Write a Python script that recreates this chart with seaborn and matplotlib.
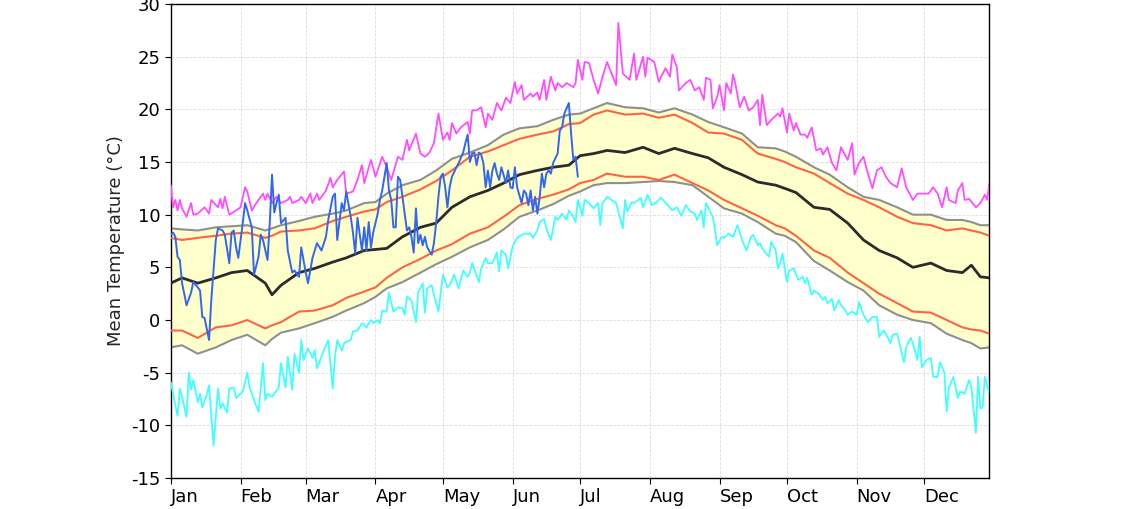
import numpy as np
import pandas as pd
import matplotlib
matplotlib.use("Agg")
import matplotlib.pyplot as plt
import seaborn as sns

# day of year (0 = 1 Jan, leap year) for the smooth climatology curves
band_days = [0, 5, 12, 20, 27, 34, 42, 45, 49, 57, 64, 72, 78, 86, 91, 96, 103, 111, 118,
             125, 133, 141, 148, 155, 163, 170, 177, 182, 188, 194, 202, 210, 217, 224, 232,
             239, 246, 254, 261, 269, 273, 278, 286, 293, 301, 308, 315, 323, 330, 338, 345,
             352, 356, 360, 364]

mean_t = [3.5, 4.0, 3.5, 4.0, 4.5, 4.7, 3.5, 2.4, 3.3, 4.5, 4.9, 5.5, 5.9, 6.6, 6.7, 6.8, 7.9,
          8.8, 9.2, 10.7, 11.7, 12.3, 13.0, 13.8, 14.2, 14.5, 14.7, 15.6, 15.8, 16.1, 15.9, 16.4,
          15.8, 16.3, 15.8, 15.4, 14.5, 13.8, 13.1, 12.8, 12.5, 12.1, 10.7, 10.5, 9.2, 7.6, 6.6,
          5.9, 5.0, 5.4, 4.7, 4.5, 5.2, 4.1, 4.0]

red_hi = [7.8, 7.6, 7.8, 8.0, 8.2, 8.3, 7.8, 8.0, 8.4, 8.5, 8.7, 9.4, 9.8, 10.3, 10.5, 11.2,
          11.7, 12.4, 13.2, 14.2, 15.5, 16.0, 16.6, 17.2, 17.6, 17.9, 18.6, 18.7, 19.5, 19.9,
          19.5, 19.6, 19.2, 19.5, 18.7, 17.8, 17.7, 17.1, 15.8, 15.3, 15.0, 14.5, 13.9, 13.0,
          12.0, 11.4, 10.7, 9.8, 9.2, 9.0, 8.5, 8.7, 8.5, 8.3, 8.0]

grey_hi = [8.7, 8.6, 8.5, 8.8, 8.9, 9.0, 8.5, 8.7, 9.0, 9.4, 9.8, 10.1, 10.4, 11.1, 11.2, 12.0,
           12.8, 13.3, 14.2, 15.3, 15.9, 16.6, 17.6, 18.2, 18.4, 19.0, 19.5, 19.6, 20.1, 20.6,
           20.2, 20.1, 19.7, 20.1, 19.5, 18.8, 18.3, 17.7, 16.4, 16.3, 16.0, 15.5, 14.5, 13.8,
           12.6, 11.7, 11.4, 10.7, 10.0, 10.0, 9.5, 9.5, 9.3, 9.0, 9.0]

red_lo = [-1.0, -1.0, -1.7, -0.7, -0.5, 0.0, -0.8, -0.5, -0.2, 0.8, 0.9, 1.4, 2.1, 2.7, 3.1,
          4.0, 5.0, 5.8, 6.6, 7.2, 8.2, 8.8, 9.8, 10.9, 11.5, 11.9, 12.4, 13.0, 13.3, 13.9, 13.6,
          13.6, 13.3, 13.8, 13.0, 12.3, 11.4, 10.6, 9.9, 9.0, 8.7, 8.0, 6.6, 5.9, 4.5, 3.5, 2.5,
          1.6, 0.8, 0.7, 0.0, -0.7, -0.9, -1.0, -1.3]

grey_lo = [-2.6, -2.4, -3.2, -2.6, -1.9, -1.4, -2.4, -1.8, -1.2, -0.8, -0.3, 0.3, 0.9, 1.6, 2.2,
           3.0, 3.6, 4.5, 5.3, 6.0, 6.9, 7.6, 8.6, 9.8, 10.4, 11.0, 11.8, 12.2, 12.8, 13.0, 13.0,
           13.1, 13.2, 13.1, 12.8, 11.7, 10.6, 10.1, 9.3, 8.2, 8.0, 7.4, 5.6, 4.7, 3.6, 2.8, 1.4,
           0.5, 0.0, -0.3, -1.3, -1.9, -2.2, -2.7, -2.6]

# record highs
max_days = [0, 1, 2, 3, 4, 5, 7, 9, 10, 12, 15, 17, 18, 21, 22, 23, 24, 26, 29, 31, 33, 34, 36,
            38, 41, 42, 43, 45, 47, 49, 52, 53, 54, 57, 58, 60, 62, 63, 65, 66, 69, 71, 72, 74,
            77, 78, 81, 83, 85, 86, 89, 91, 94, 96, 98, 101, 103, 105, 106, 109, 111, 113, 115,
            117, 119, 121, 123, 124, 125, 127, 129, 132, 133, 134, 136, 138, 140, 141, 143, 145,
            147, 149, 151, 153, 154, 156, 157, 160, 161, 163, 164, 166, 167, 169, 171, 172, 174,
            176, 179, 180, 181, 183, 184, 186, 188, 190, 192, 194, 196, 198, 199, 201, 203, 204,
            206, 207, 210, 211, 212, 215, 217, 218, 220, 222, 223, 225, 226, 229, 231, 233, 235,
            237, 238, 240, 241, 243, 244, 246, 247, 249, 250, 251, 253, 255, 257, 259, 261, 262,
            263, 265, 267, 270, 271, 272, 274, 275, 277, 278, 280, 282, 283, 285, 287, 289, 290,
            292, 294, 296, 298, 301, 303, 304, 306, 308, 310, 312, 314, 316, 318, 320, 323, 325,
            327, 330, 332, 334, 337, 339, 341, 343, 345, 346, 349, 350, 352, 353, 355, 358, 360,
            362, 363, 364]
max_t = [12.8, 10.7, 11.4, 10.4, 11.4, 10.6, 9.8, 11.1, 10.0, 10.1, 10.7, 10.1, 11.4, 10.7,
         11.5, 10.6, 11.7, 10.0, 10.4, 10.7, 12.6, 12.2, 10.4, 11.1, 12.0, 11.4, 12.0, 11.1, 11.7,
         11.1, 11.4, 11.7, 11.1, 11.4, 11.7, 11.1, 12.0, 11.1, 12.0, 11.4, 12.3, 13.5, 12.6, 13.3,
         14.1, 12.0, 12.2, 13.3, 14.7, 13.0, 15.2, 13.6, 15.5, 14.5, 13.3, 15.5, 15.2, 17.1, 16.1,
         17.7, 15.8, 15.5, 15.9, 16.8, 19.6, 17.1, 17.8, 17.1, 18.7, 17.7, 18.3, 18.8, 17.7, 19.9,
         19.9, 20.2, 18.3, 19.6, 19.0, 20.6, 19.9, 21.1, 20.6, 22.6, 21.5, 22.3, 20.9, 21.5, 21.2,
         21.6, 20.9, 22.8, 20.9, 23.1, 21.8, 22.5, 22.1, 22.5, 22.1, 22.5, 24.7, 22.8, 24.5, 24.4,
         22.8, 21.5, 23.1, 24.5, 23.4, 22.3, 28.2, 23.4, 23.0, 22.8, 25.3, 22.8, 25.0, 23.1, 24.9,
         24.5, 22.6, 23.1, 23.9, 23.1, 25.2, 24.0, 21.8, 22.5, 22.8, 21.8, 22.1, 20.9, 23.0, 22.8,
         20.1, 21.2, 22.3, 19.9, 22.5, 21.5, 23.3, 22.5, 20.2, 21.2, 19.9, 20.2, 20.9, 18.5, 21.4,
         18.5, 19.0, 19.6, 19.3, 20.1, 17.8, 19.6, 18.0, 18.7, 17.6, 17.6, 17.3, 18.3, 16.1, 16.3,
         15.7, 16.4, 14.9, 14.2, 16.4, 15.2, 16.8, 13.8, 14.9, 15.5, 13.9, 12.5, 14.2, 14.5, 13.6,
         13.0, 12.6, 14.4, 12.6, 11.4, 12.0, 12.0, 12.0, 12.6, 12.0, 10.7, 12.6, 11.4, 11.1, 12.3,
         13.0, 11.4, 11.5, 10.7, 11.1, 11.9, 11.4, 13.0]

# record lows
min_days = [0, 1, 3, 4, 5, 7, 8, 9, 10, 12, 13, 14, 16, 17, 19, 21, 22, 23, 25, 26, 28, 29, 32,
            34, 35, 37, 39, 41, 42, 43, 45, 48, 49, 51, 52, 54, 55, 57, 58, 59, 61, 63, 64, 65,
            68, 70, 72, 73, 74, 76, 77, 80, 81, 83, 85, 87, 89, 90, 92, 93, 94, 96, 97, 99, 101,
            103, 104, 105, 107, 109, 110, 112, 113, 114, 116, 117, 119, 121, 123, 124, 126, 128,
            130, 132, 133, 134, 137, 138, 140, 141, 143, 145, 146, 147, 149, 150, 152, 154, 157,
            160, 161, 163, 164, 166, 167, 169, 171, 172, 174, 176, 177, 179, 180, 181, 183, 184,
            186, 188, 190, 191, 192, 194, 196, 198, 199, 201, 202, 203, 205, 206, 209, 210, 212,
            214, 216, 218, 221, 223, 225, 227, 229, 231, 233, 234, 236, 237, 238, 241, 242, 243,
            245, 246, 248, 250, 252, 253, 254, 256, 258, 259, 261, 262, 263, 266, 267, 269, 270,
            271, 272, 274, 275, 277, 279, 281, 282, 283, 285, 286, 288, 290, 291, 292, 294, 295,
            297, 298, 300, 301, 303, 305, 306, 308, 310, 312, 314, 315, 317, 318, 320, 321, 323,
            324, 326, 327, 329, 330, 332, 333, 334, 336, 338, 339, 341, 342, 344, 345, 346, 348,
            350, 351, 353, 355, 356, 358, 359, 360, 361, 362, 364]
min_t = [-5.9, -7.0, -9.1, -6.5, -7.3, -9.2, -5.0, -6.6, -5.7, -7.8, -7.0, -8.3, -7.1, -6.2,
         -11.9, -6.5, -8.4, -7.9, -8.8, -6.5, -6.4, -7.4, -6.8, -5.0, -6.4, -7.6, -8.7, -4.1,
         -7.6, -7.0, -7.3, -6.4, -4.1, -6.4, -3.5, -6.6, -3.2, -5.0, -1.9, -3.8, -2.7, -3.6, -2.9,
         -4.6, -2.9, -1.9, -6.5, -3.5, -1.9, -2.9, -2.2, -1.9, -1.1, -1.0, -0.3, -0.7, 0.0, -0.3,
         0.0, -0.3, 0.9, 0.8, 2.6, 0.8, 1.2, 1.1, 0.5, 2.2, 1.9, -0.2, 2.6, 3.5, 0.7, 3.0, 3.3,
         2.4, 0.8, 4.3, 3.1, 3.3, 4.3, 3.0, 4.7, 4.1, 4.5, 5.4, 3.6, 4.9, 5.9, 5.4, 5.4, 6.4, 4.6,
         6.6, 6.2, 4.9, 7.0, 7.8, 8.2, 8.2, 7.8, 8.5, 9.3, 9.6, 8.7, 7.6, 9.8, 9.5, 10.1, 9.5,
         10.4, 9.8, 9.3, 11.4, 9.9, 11.4, 11.1, 10.6, 11.1, 9.0, 11.1, 11.7, 11.4, 11.1, 10.3,
         8.7, 11.4, 10.3, 11.2, 11.1, 11.6, 10.7, 11.9, 10.9, 11.2, 11.6, 10.9, 10.4, 10.7, 9.9,
         10.9, 10.3, 10.1, 9.5, 10.4, 8.8, 11.1, 9.8, 8.5, 7.1, 7.9, 7.8, 8.2, 7.9, 9.0, 8.3, 7.6,
         6.6, 7.9, 8.1, 7.1, 7.3, 6.8, 6.0, 7.4, 6.6, 4.9, 5.4, 6.3, 3.6, 4.7, 4.9, 3.8, 4.1, 3.5,
         4.0, 2.4, 2.8, 2.5, 1.9, 2.2, 1.6, 2.0, 0.9, 1.9, 1.4, 0.9, 0.5, 0.8, 0.5, 1.7, 0.5,
         -0.2, 0.3, 0.3, -1.6, -1.0, -1.3, -2.2, -1.4, -1.3, -2.2, -4.0, -2.6, -1.7, -2.2, -3.8,
         -1.6, -4.5, -3.8, -3.6, -5.4, -5.4, -4.0, -5.0, -8.7, -6.4, -5.4, -7.4, -6.8, -7.0, -5.7,
         -6.4, -10.7, -5.4, -8.4, -8.3, -5.4, -7.0]

# this year so far
cur_days = [0, 1, 2, 3, 4, 5, 7, 9, 10, 12, 13, 14, 15, 17, 18, 20, 21, 23, 24, 26, 27, 28, 29,
            30, 32, 33, 34, 36, 37, 39, 40, 41, 43, 44, 45, 46, 47, 48, 49, 51, 52, 54, 55, 57,
            58, 60, 61, 63, 64, 65, 67, 69, 70, 72, 73, 74, 76, 77, 78, 80, 81, 82, 83, 85, 86,
            87, 88, 89, 90, 92, 93, 94, 96, 97, 98, 99, 100, 101, 102, 103, 105, 106, 107, 108,
            109, 110, 111, 112, 113, 114, 116, 117, 118, 119, 120, 121, 122, 123, 124, 125, 127,
            128, 129, 130, 131, 132, 133, 134, 135, 136, 137, 138, 139, 140, 141, 142, 143, 144,
            145, 146, 147, 149, 150, 151, 152, 153, 154, 156, 157, 158, 159, 160, 161, 162, 163,
            164, 165, 166, 167, 168, 169, 170, 172, 173, 174, 175, 176, 177, 178, 179, 180, 181]
cur_t = [8.1, 8.3, 7.9, 6.0, 5.7, 3.5, 1.4, 2.6, 3.6, 3.1, 2.8, 0.3, 0.2, -1.9, 1.9, 7.6, 8.7,
         8.5, 8.1, 5.4, 8.3, 8.5, 6.9, 5.9, 9.2, 11.1, 10.4, 8.8, 4.3, 6.0, 8.1, 7.6, 5.7, 9.2,
         13.8, 10.2, 11.1, 11.9, 9.2, 9.7, 6.6, 4.5, 4.7, 4.1, 6.9, 4.5, 3.5, 5.9, 6.6, 7.3, 6.6,
         7.9, 9.5, 11.7, 12.0, 7.6, 11.1, 10.4, 12.2, 9.8, 8.3, 6.3, 9.7, 6.6, 8.8, 6.6, 9.3, 6.9,
         8.3, 10.1, 11.4, 12.3, 14.9, 12.3, 11.4, 8.8, 8.8, 13.6, 13.3, 11.7, 8.5, 8.8, 7.9, 6.4,
         10.6, 7.3, 8.1, 7.1, 7.9, 6.9, 6.2, 7.3, 9.2, 11.7, 13.6, 13.9, 12.6, 10.7, 12.6, 13.6,
         14.5, 14.9, 15.4, 15.9, 16.8, 17.6, 15.0, 15.8, 15.9, 14.7, 15.9, 15.7, 14.9, 12.6, 14.2,
         12.6, 14.2, 14.9, 13.9, 13.3, 14.5, 13.0, 14.2, 12.6, 12.5, 14.5, 12.6, 11.1, 12.3, 12.0,
         10.9, 12.3, 10.4, 11.7, 10.1, 11.6, 13.9, 12.6, 13.9, 14.2, 13.9, 14.9, 15.8, 18.0, 18.3,
         19.6, 20.1, 20.6, 17.7, 15.2, 15.5, 13.6]

month_starts = [0, 31, 60, 91, 121, 152, 182, 213, 244, 274, 305, 335]
month_labels = ["Jan", "Feb", "Mar", "Apr", "May", "Jun",
                "Jul", "Aug", "Sep", "Oct", "Nov", "Dec"]

bands = pd.DataFrame({"day": band_days, "mean": mean_t, "red_hi": red_hi, "red_lo": red_lo,
                      "grey_hi": grey_hi, "grey_lo": grey_lo})
rec_max = pd.DataFrame({"day": max_days, "t": max_t})
rec_min = pd.DataFrame({"day": min_days, "t": min_t})
this_year = pd.DataFrame({"day": cur_days, "t": cur_t})

sns.set_style("ticks")
plt.rcParams["axes.unicode_minus"] = False
plt.rcParams["font.family"] = ["DejaVu Sans"]

fig = plt.figure(figsize=(11.32, 5.09), dpi=100)
ax = fig.add_axes([0.1509, 0.0609, 0.7231, 0.9312])

ax.fill_between(bands["day"], bands["grey_lo"], bands["grey_hi"],
                color="#ffffcc", linewidth=0, zorder=1)

kw = dict(ax=ax, x="day", estimator=None, legend=False)
sns.lineplot(data=bands, y="grey_hi", color="#8f8f8f", linewidth=1.5, zorder=2, **kw)
sns.lineplot(data=bands, y="grey_lo", color="#8f8f8f", linewidth=1.5, zorder=2, **kw)
sns.lineplot(data=bands, y="red_hi", color="#ff6347", linewidth=1.5, zorder=3, **kw)
sns.lineplot(data=bands, y="red_lo", color="#ff6347", linewidth=1.5, zorder=3, **kw)
sns.lineplot(data=rec_max, y="t", color="#ff4dff", linewidth=1.3, zorder=3, **kw)
sns.lineplot(data=rec_min, y="t", color="#40ffff", linewidth=1.3, zorder=3, **kw)
sns.lineplot(data=bands, y="mean", color="#2b2b2b", linewidth=2.0, zorder=4, **kw)
sns.lineplot(data=this_year, y="t", color="#3366ee", linewidth=1.4, zorder=5, **kw)

ax.set_xlim(0, 364)
ax.set_ylim(-15, 30)
ax.set_yticks(range(-15, 31, 5))
ax.set_xticks(month_starts)
ax.set_xticklabels(month_labels, ha="left")
ax.tick_params(axis="both", labelsize=13, direction="out", length=4, colors="black")
ax.set_xlabel("")
ax.set_ylabel("Mean Temperature (°C)", fontsize=13)
ax.grid(True, color="#dddddd", linestyle="--", linewidth=0.6, zorder=0)
ax.set_axisbelow(True)
for s in ax.spines.values():
    s.set_color("black")
    s.set_linewidth(1.0)

fig.savefig("out.png", dpi=100)
